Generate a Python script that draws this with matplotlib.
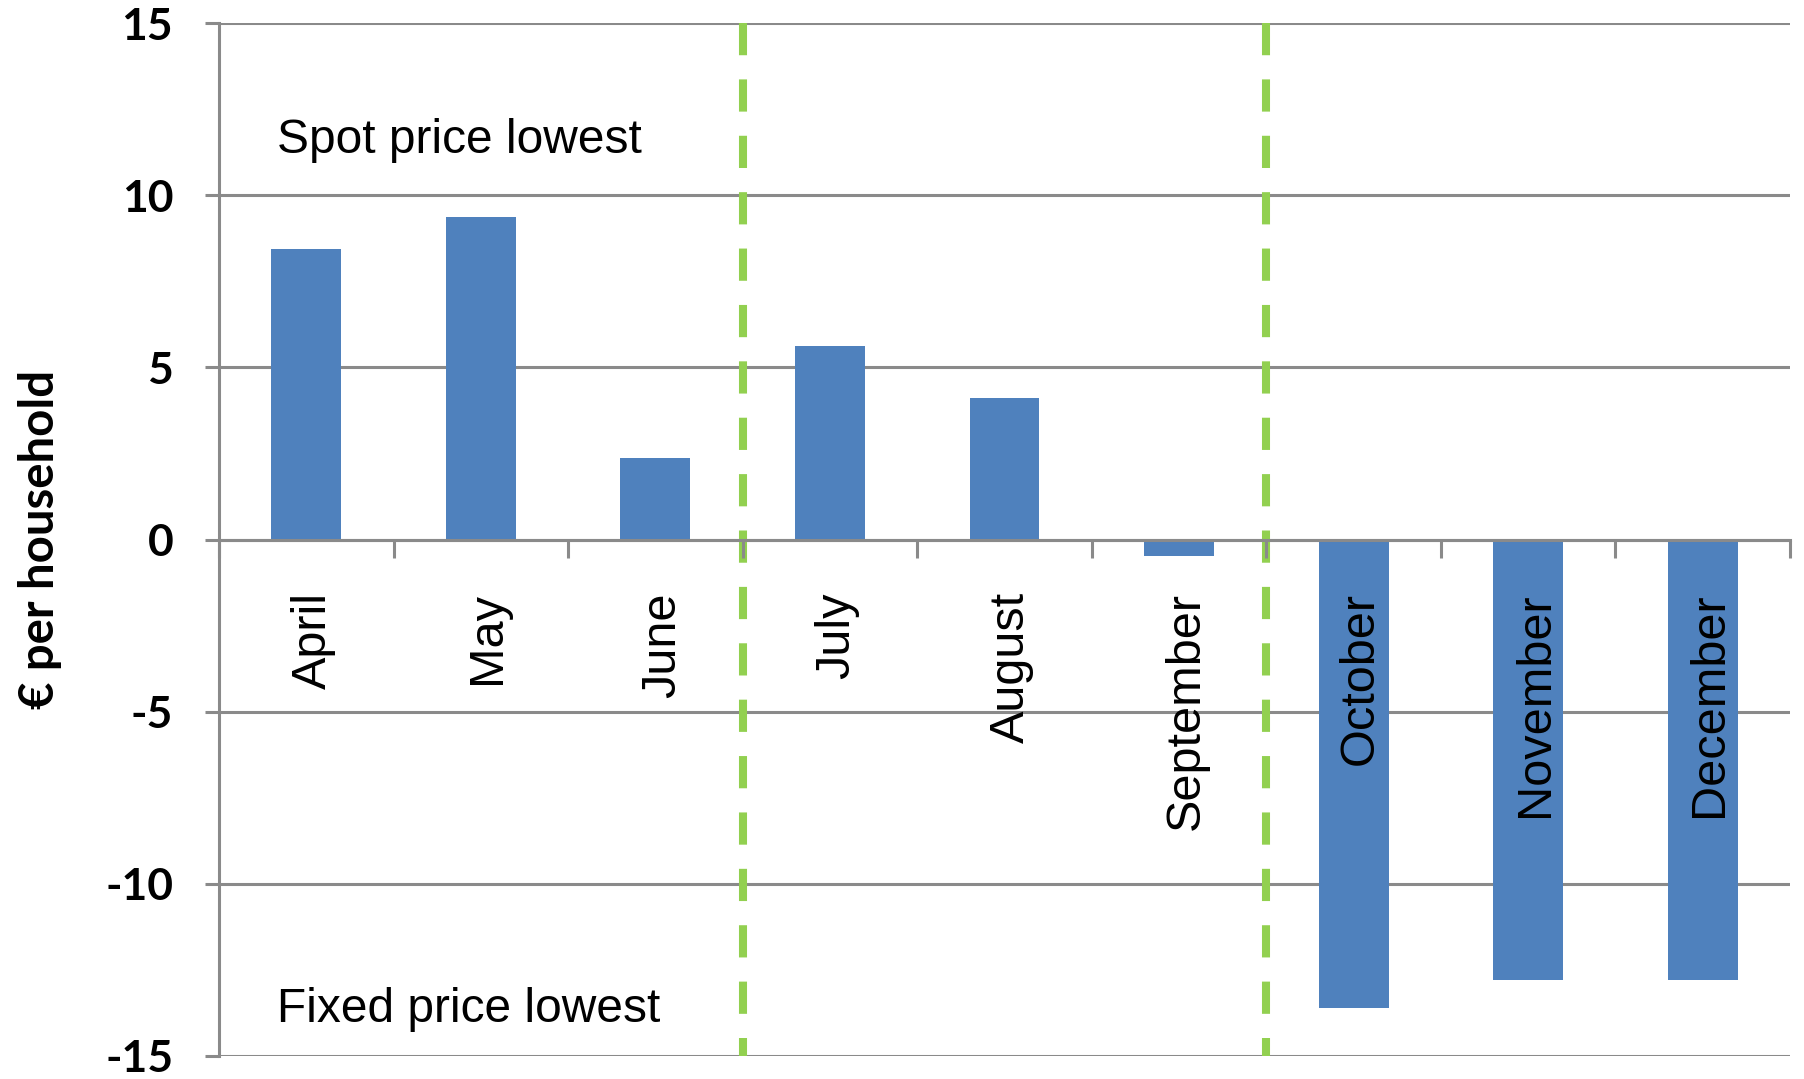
import matplotlib.pyplot as plt
import matplotlib.transforms as mtransforms
import numpy as np

plt.rcParams['axes.unicode_minus'] = False

months = ['April', 'May', 'June', 'July', 'August', 'September',
          'October', 'November', 'December']
# difference fixed minus spot price, euro per household
savings = [8.43, 9.36, 2.37, 5.62, 4.11, -0.47, -13.6, -12.78, -12.78]
yticks = [-15, -10, -5, 0, 5, 10, 15]
season_breaks = [2.5, 5.5]   # between June/July and September/October

GRID = '#8a8a8a'
BLUE = '#4f81bd'
GREEN = '#92d050'

fig = plt.figure(figsize=(18.04, 10.79), dpi=100)
ax = fig.add_axes([219 / 1804, 23 / 1079, 1571 / 1804, 1033 / 1079])

x = np.arange(len(months))
ax.bar(x, savings, width=0.4, color=BLUE, zorder=1)

ax.set_xlim(-0.5, len(months) - 0.5)
ax.set_ylim(yticks[0], yticks[-1])

# horizontal grid behind the bars, month labels in front of them
ax.yaxis.set_zorder(0.5)
ax.xaxis.set_zorder(3)
ax.set_yticks(yticks)
ax.yaxis.grid(True, color=GRID, linewidth=2.2)
ax.tick_params(axis='y', direction='out', length=10, width=2.2, color=GRID, pad=23)

ax.set_xticks(x, labels=months)
ax.set_xticks(np.arange(len(months) + 1) - 0.5, minor=True)
ax.tick_params(axis='x', which='major', length=0, pad=38, labelrotation=90)
ax.tick_params(axis='x', which='minor', direction='out', length=13, width=2.2,
               color=GRID)

for side in ['top', 'right']:
    ax.spines[side].set_visible(False)
ax.spines['bottom'].set_position(('data', 0))
ax.spines['bottom'].set_color(GRID)
ax.spines['bottom'].set_linewidth(2.2)
ax.spines['left'].set_color(GRID)
ax.spines['left'].set_linewidth(2.2)

for b in season_breaks:
    ln, = ax.plot([b, b], [yticks[-1], yticks[0]], color=GREEN, linewidth=5.8,
                  zorder=2)
    ln.set_dashes([4.0, 3.0])
    ln.set_dash_capstyle('butt')

ax.text(-0.17, 11.6, 'Spot price lowest', family='Liberation Sans', fontsize=34.5,
        va='center', ha='left')
ax.text(-0.17, -13.65, 'Fixed price lowest', family='Liberation Sans', fontsize=34.5,
        va='center', ha='left')

fig.text(0.022, 0.5, '€ per household', rotation=90, family='Lato',
         fontweight='bold', fontsize=34, va='center', ha='center')

# ticks are created lazily, so style the labels after a first draw
fig.canvas.draw()
for lbl in ax.get_yticklabels():
    lbl.set_family('Lato')
    lbl.set_weight('bold')
    lbl.set_size(32)
# Excel puts the rotated labels a little right of the bar centre
shift = mtransforms.ScaledTranslation(7 / 100, 0, fig.dpi_scale_trans)
for lbl in ax.get_xticklabels():
    lbl.set_family('Liberation Sans')
    lbl.set_size(35)
    lbl.set_transform(lbl.get_transform() + shift)

fig.savefig('out.png', dpi=100)
